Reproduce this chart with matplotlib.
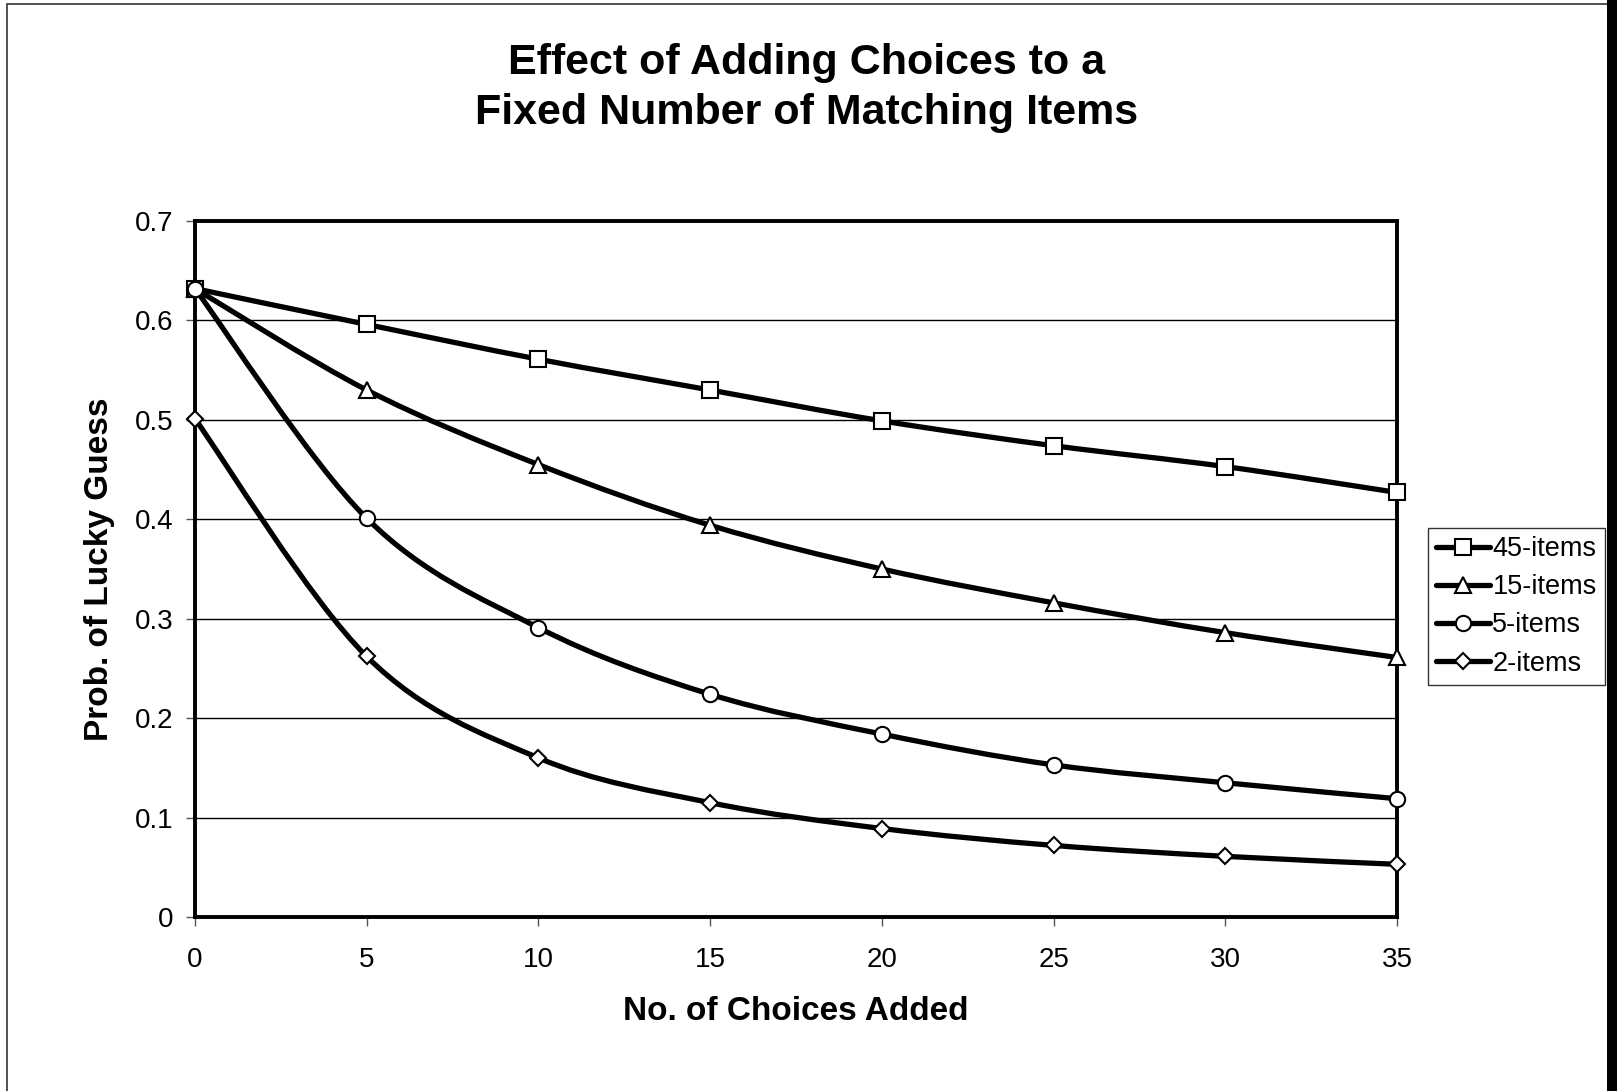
import numpy as np
import matplotlib
matplotlib.use("Agg")
import matplotlib.pyplot as plt
from matplotlib.path import Path
from matplotlib.patches import PathPatch, Rectangle
from matplotlib.lines import Line2D

plt.rcParams['font.family'] = ['Liberation Sans', 'DejaVu Sans']

choices = [0, 5, 10, 15, 20, 25, 30, 35]
items45 = [0.632, 0.596, 0.561, 0.530, 0.499, 0.474, 0.453, 0.427]
items15 = [0.632, 0.530, 0.455, 0.394, 0.350, 0.316, 0.286, 0.261]
items5 = [0.632, 0.401, 0.291, 0.224, 0.184, 0.153, 0.135, 0.119]
items2 = [0.501, 0.262, 0.160, 0.115, 0.089, 0.072, 0.061, 0.053]

labels = ['45-items', '15-items', '5-items', '2-items']
markers = ['s', '^', 'o', 'D']
msizes = [11, 11, 11, 8]


def smooth_path(x, y):
    # Excel-style smoothed line: cubic bezier segments through the points
    pts = np.column_stack([x, y]).astype(float)
    verts = [pts[0]]
    codes = [Path.MOVETO]
    n = len(pts)
    for i in range(n - 1):
        p0 = pts[i - 1] if i > 0 else pts[i]
        p1 = pts[i]
        p2 = pts[i + 1]
        p3 = pts[i + 2] if i + 2 < n else pts[i + 1]
        c1 = p1 + (p2 - p0) / 6.0
        c2 = p2 - (p3 - p1) / 6.0
        verts += [c1, c2, p2]
        codes += [Path.CURVE4] * 3
    return Path(verts, codes)


fig = plt.figure(figsize=(16.17, 10.91), dpi=100)
ax = fig.add_axes([195 / 1617, 1 - 917 / 1091, (1397 - 195) / 1617, (917 - 221) / 1091])

series = [items45, items15, items5, items2]
handles = []
for vals, lab, mk, ms in zip(series, labels, markers, msizes):
    ax.add_patch(PathPatch(smooth_path(choices, vals), facecolor='none',
                           edgecolor='black', lw=3.8, zorder=3, clip_on=False))
    ax.plot(choices, vals, ls='none', marker=mk, ms=ms, mfc='white', mec='black',
            mew=1.5, zorder=4, clip_on=False)
    handles.append(Line2D([], [], color='black', lw=3.8, marker=mk, ms=ms,
                          mfc='white', mec='black', mew=1.5, solid_capstyle='round'))

ax.set_xlim(0, 35)
ax.set_ylim(0, 0.7)
ax.set_xticks(choices)
ax.set_yticks(np.arange(0, 0.71, 0.1))
ax.set_yticklabels(['0', '0.1', '0.2', '0.3', '0.4', '0.5', '0.6', '0.7'])
ax.yaxis.grid(True, color='black', lw=1.0)
ax.set_axisbelow(True)
for s in ax.spines.values():
    s.set_linewidth(2.8)
ax.tick_params(axis='both', labelsize=20, length=6.5, width=1.0, color='#555555')
ax.tick_params(axis='x', pad=15)
ax.tick_params(axis='y', pad=9)

ax.set_xlabel('No. of Choices Added', fontsize=24, fontweight='bold', labelpad=17)
ax.set_ylabel('Prob. of Lucky Guess', fontsize=24, fontweight='bold', labelpad=14)

fig.text(807 / 1617, 1 - 88 / 1091, 'Effect of Adding Choices to a\nFixed Number of Matching Items',
         ha='center', va='center', fontsize=31, fontweight='bold', linespacing=1.33)

leg = fig.legend(handles, labels, loc='upper left', bbox_to_anchor=(1428 / 1617, 1 - 528 / 1091),
                 fontsize=19.5, frameon=True, fancybox=False, edgecolor='black',
                 handlelength=2.0, handletextpad=0.08, borderpad=0.3, labelspacing=0.45,
                 borderaxespad=0)
leg.get_frame().set_linewidth(1.0)

# outer chart border
fig.patches.append(Rectangle((7 / 1617, -0.01), (1610 - 7) / 1617, 1 - 4 / 1091 + 0.01,
                             transform=fig.transFigure, fill=False, edgecolor='#333333', lw=1.2))
fig.patches.append(Rectangle((1607 / 1617, 0), 10 / 1617, 1, transform=fig.transFigure,
                             facecolor='black', edgecolor='none'))

fig.savefig('out.png', dpi=100)
